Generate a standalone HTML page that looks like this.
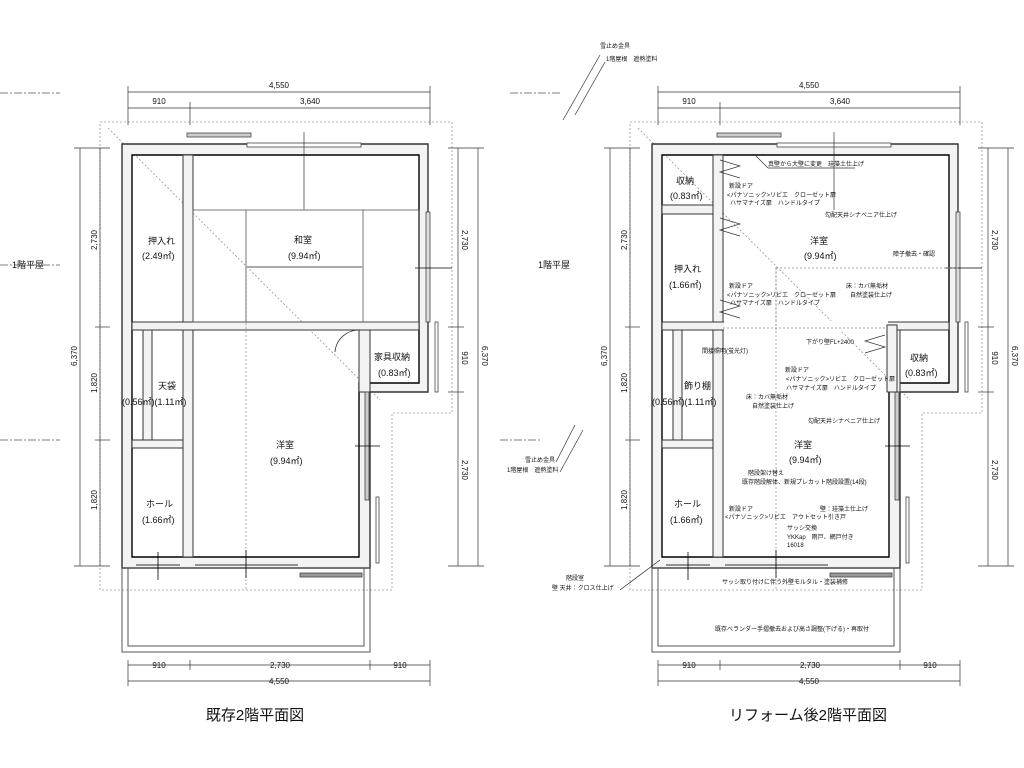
<!DOCTYPE html>
<html><head><meta charset="utf-8"><style>
html,body{margin:0;padding:0;background:#fff;}
svg{display:block;}
text{font-family:"Liberation Sans","Noto Sans CJK JP",sans-serif;fill:#111;}
.t{font-size:9px;}
.s{font-size:6px;}
.d{font-size:8px;}
</style></head><body>
<svg width="1024" height="768" viewBox="0 0 1024 768" xmlns="http://www.w3.org/2000/svg">
<defs>
<g id="plan">
  <path d="M100,122 H452 V413 H392 V590 H100 Z" fill="none" stroke="#999" stroke-width="0.8" stroke-dasharray="2,2"/>
  <line x1="108" y1="128" x2="380" y2="400" stroke="#999" stroke-width="0.8" stroke-dasharray="2,2"/>
  <path d="M122,144 H428 V392 H370 V568 H122 Z M132,155 V557 H359 V383 H419 V155 Z" fill="#f3f3f3" fill-rule="evenodd" stroke="#666" stroke-width="1"/>
  <path d="M132,155 V557 H359 V383 H419 V155 Z" fill="none" stroke="#000" stroke-width="1.4"/>
  <path d="M122,144 H428 V392 H370 V568 H122 Z" fill="none" stroke="#333" stroke-width="1.4"/>
  <rect x="183" y="155" width="10" height="402" fill="#f3f3f3" stroke="#333" stroke-width="1"/>
  <rect x="132" y="322" width="287" height="8" fill="#f3f3f3" stroke="#333" stroke-width="1"/>
  <rect x="132" y="440" width="51" height="8" fill="#f3f3f3" stroke="#333" stroke-width="1"/>
  <rect x="143" y="330" width="9" height="110" fill="#f3f3f3" stroke="#333" stroke-width="1"/>
  <rect x="359" y="330" width="11" height="62" fill="#f3f3f3" stroke="#333" stroke-width="1"/>
  <rect x="122" y="568" width="248" height="84" fill="none" stroke="#555" stroke-width="1"/>
  <rect x="128" y="568" width="236" height="78" fill="none" stroke="#555" stroke-width="1"/>
  <rect x="187" y="133" width="64" height="4" fill="#ccc" stroke="#444" stroke-width="0.8"/>
  <rect x="247" y="143" width="114" height="4" fill="#fff" stroke="#444" stroke-width="0.8"/>
  <rect x="426" y="212" width="4" height="110" fill="#ddd" stroke="#444" stroke-width="0.8"/>
  <rect x="365" y="392" width="4" height="108" fill="#ccc" stroke="#444" stroke-width="0.8"/>
  <rect x="376" y="497" width="3" height="66" fill="#fff" stroke="#444" stroke-width="0.8"/>
  <rect x="300" y="573" width="62" height="4" fill="#999" stroke="#444" stroke-width="0.8"/>
  <rect x="435" y="322" width="3" height="70" fill="#fff" stroke="#444" stroke-width="0.8"/>
  <line x1="136" y1="565" x2="180" y2="565" stroke="#333"/>
  <line x1="195" y1="565" x2="298" y2="565" stroke="#333"/>
  <line x1="246" y1="267" x2="246" y2="590" stroke="#999" stroke-width="0.8" stroke-dasharray="2,2"/>
  <line x1="304" y1="132" x2="304" y2="210" stroke="#333" stroke-width="0.7"/>
  <line x1="415" y1="268" x2="452" y2="268" stroke="#000" stroke-width="0.8"/>
  <line x1="355" y1="446" x2="380" y2="446" stroke="#000" stroke-width="0.8"/>
  <line x1="246" y1="550" x2="246" y2="578" stroke="#000" stroke-width="0.8"/>
  <line x1="158" y1="552" x2="158" y2="580" stroke="#000" stroke-width="0.8"/>
  <g stroke="#333" stroke-width="0.7">
  <line x1="128" y1="92" x2="430" y2="92"/><line x1="128" y1="108" x2="430" y2="108"/>
  <line x1="128" y1="86" x2="128" y2="125"/><line x1="430" y1="86" x2="430" y2="125"/><line x1="190" y1="102" x2="190" y2="125"/>
  <line x1="128" y1="665" x2="430" y2="665"/><line x1="128" y1="681" x2="430" y2="681"/>
  <line x1="128" y1="660" x2="128" y2="686"/><line x1="430" y1="660" x2="430" y2="686"/><line x1="190" y1="660" x2="190" y2="670"/><line x1="370" y1="660" x2="370" y2="670"/>
  <line x1="80" y1="148" x2="80" y2="566"/><line x1="100" y1="148" x2="100" y2="566"/>
  <line x1="74" y1="148" x2="110" y2="148"/><line x1="74" y1="566" x2="110" y2="566"/><line x1="95" y1="327" x2="110" y2="327"/><line x1="95" y1="440" x2="110" y2="440"/>
  <line x1="458" y1="148" x2="458" y2="566"/><line x1="478" y1="148" x2="478" y2="566"/>
  <line x1="448" y1="148" x2="484" y2="148"/><line x1="448" y1="566" x2="484" y2="566"/><line x1="448" y1="327" x2="464" y2="327"/><line x1="448" y1="392" x2="464" y2="392"/>
  </g>
  <text class="d" x="279" y="88" text-anchor="middle">4,550</text>
  <text class="d" x="159" y="104" text-anchor="middle">910</text>
  <text class="d" x="310" y="104" text-anchor="middle">3,640</text>
  <text class="d" x="159" y="668" text-anchor="middle">910</text>
  <text class="d" x="280" y="668" text-anchor="middle">2,730</text>
  <text class="d" x="400" y="668" text-anchor="middle">910</text>
  <text class="d" x="279" y="684" text-anchor="middle">4,550</text>
  <text class="d" transform="translate(77,356) rotate(-90)" text-anchor="middle">6,370</text>
  <text class="d" transform="translate(97,240) rotate(-90)" text-anchor="middle">2,730</text>
  <text class="d" transform="translate(97,383) rotate(-90)" text-anchor="middle">1,820</text>
  <text class="d" transform="translate(97,500) rotate(-90)" text-anchor="middle">1,820</text>
  <text class="d" transform="translate(462,240) rotate(90)" text-anchor="middle">2,730</text>
  <text class="d" transform="translate(462,358) rotate(90)" text-anchor="middle">910</text>
  <text class="d" transform="translate(462,470) rotate(90)" text-anchor="middle">2,730</text>
  <text class="d" transform="translate(482,356) rotate(90)" text-anchor="middle">6,370</text>
</g>
</defs>

<g stroke="#555" stroke-width="0.7" stroke-dasharray="8,2,2,2">
<line x1="0" y1="93" x2="60" y2="93"/><line x1="0" y1="265" x2="60" y2="265"/><line x1="0" y1="440" x2="60" y2="440"/>
<line x1="510" y1="93" x2="560" y2="93"/><line x1="500" y1="440" x2="540" y2="440"/>
</g>
<text class="t" x="12" y="268">1階平屋</text>
<text class="t" x="538" y="268">1階平屋</text>

<use href="#plan"/>
<use href="#plan" transform="translate(530,0)"/>

<g stroke="#555" stroke-width="0.8" fill="none">
<rect x="193" y="210" width="226" height="112"/>
<line x1="246" y1="210" x2="246" y2="322"/><line x1="363" y1="210" x2="363" y2="322"/>
<line x1="246" y1="267" x2="363" y2="267" stroke="#aaa" stroke-width="2"/>
<path d="M335,352 A24,24 0 0 1 360,330" stroke="#333"/>
</g>
<text class="t" x="148" y="244">押入れ</text>
<text class="t" x="142" y="259">(2.49㎡)</text>
<text class="t" x="294" y="243">和室</text>
<text class="t" x="288" y="259">(9.94㎡)</text>
<text class="t" x="374" y="360">家具収納</text>
<text class="t" x="378" y="376">(0.83㎡)</text>
<text class="t" x="158" y="389">天袋</text>
<text class="t" x="122" y="405">(0.56㎡)(1.11㎡)</text>
<text class="t" x="276" y="448">洋室</text>
<text class="t" x="270" y="464">(9.94㎡)</text>
<text class="t" x="146" y="507">ホール</text>
<text class="t" x="142" y="523">(1.66㎡)</text>
<text x="255" y="720" font-size="15" text-anchor="middle">既存2階平面図</text>

<!-- right specific -->
<rect x="724" y="321" width="164" height="10" fill="#fff"/>
<g stroke="#333" stroke-width="1" fill="#f3f3f3">
<rect x="662" y="205" width="51" height="9"/>
<rect x="887" y="325" width="10" height="67"/>
</g>
<g stroke="#888" stroke-width="0.8" fill="none" stroke-dasharray="2,2">
<line x1="776" y1="268" x2="960" y2="268"/>
<line x1="723" y1="328" x2="887" y2="328"/>
<line x1="776" y1="268" x2="776" y2="330"/>
</g>
<g stroke="#333" stroke-width="0.7" fill="none">
<path d="M720,160 L740,166 L720,172 L740,178"/><path d="M720,218 L740,224 L720,230 L740,236"/>
<path d="M720,300 L740,306 L720,312 L740,318"/><path d="M885,335 L865,341 L885,347 L865,353"/>
<line x1="600" y1="55" x2="563" y2="120"/><line x1="605" y1="62" x2="575" y2="115"/>
<line x1="575" y1="425" x2="556" y2="462"/><line x1="583" y1="430" x2="560" y2="472"/>
<line x1="620" y1="590" x2="660" y2="560"/>
<line x1="755" y1="155" x2="768" y2="168"/><line x1="768" y1="168" x2="855" y2="168"/>
</g>
<g font-size="6">
<text x="600" y="48">雪止め金具</text>
<text x="606" y="61">1階屋根　遮熱塗料</text>
<text x="768" y="166">真壁から大壁に変更　珪藻土仕上げ</text>
<text x="729" y="188">新設ドア</text>
<text x="727" y="197">&lt;パナソニック&gt;リビエ　クローゼット扉</text>
<text x="730" y="205">ハサマナイズ扉　ハンドルタイプ</text>
<text x="825" y="217">勾配天井シナベニア仕上げ</text>
<text x="893" y="256">障子撤去・確認</text>
<text x="729" y="288">新設ドア</text>
<text x="727" y="297">&lt;パナソニック&gt;リビエ　クローゼット扉</text>
<text x="730" y="305">ハサマナイズ扉　ハンドルタイプ</text>
<text x="846" y="288">床：カバ無垢材</text>
<text x="850" y="297">自然塗装仕上げ</text>
<text x="806" y="344">下がり壁FL+2400</text>
<text x="702" y="353">間接照明(蛍光灯)</text>
<text x="785" y="372">新設ドア</text>
<text x="786" y="381">&lt;パナソニック&gt;リビエ　クローゼット扉</text>
<text x="786" y="390">ハサマナイズ扉　ハンドルタイプ</text>
<text x="746" y="399">床：カバ無垢材</text>
<text x="752" y="408">自然塗装仕上げ</text>
<text x="808" y="423">勾配天井シナベニア仕上げ</text>
<text x="748" y="475">階段架け替え</text>
<text x="742" y="484">既存階段解体、新規プレカット階段設置(14段)</text>
<text x="729" y="511">新設ドア</text>
<text x="725" y="519">&lt;パナソニック&gt;リビエ　アウトセット引き戸</text>
<text x="820" y="511">壁：珪藻土仕上げ</text>
<text x="787" y="530">サッシ交換</text>
<text x="787" y="539">YKKap　雨戸、網戸付き</text>
<text x="787" y="547">16018</text>
<text x="566" y="580">階段室</text>
<text x="552" y="590">壁 天井：クロス仕上げ</text>
<text x="722" y="584">サッシ取り付けに伴う外壁モルタル・塗装補修</text>
<text x="715" y="631">既存ベランダー手摺撤去および高さ調整(下げる)・再取付</text>
<text x="525" y="462">雪止め金具</text>
<text x="507" y="472">1階屋根　遮熱塗料</text>
</g>
<text class="t" x="676" y="184">収納</text>
<text class="t" x="670" y="199">(0.83㎡)</text>
<text class="t" x="810" y="244">洋室</text>
<text class="t" x="804" y="259">(9.94㎡)</text>
<text class="t" x="674" y="272">押入れ</text>
<text class="t" x="669" y="288">(1.66㎡)</text>
<text class="t" x="910" y="361">収納</text>
<text class="t" x="905" y="376">(0.83㎡)</text>
<text class="t" x="684" y="389">飾り棚</text>
<text class="t" x="652" y="405">(0.56㎡)(1.11㎡)</text>
<text class="t" x="794" y="448">洋室</text>
<text class="t" x="789" y="463">(9.94㎡)</text>
<text class="t" x="674" y="507">ホール</text>
<text class="t" x="670" y="523">(1.66㎡)</text>
<text x="808" y="720" font-size="15" text-anchor="middle">リフォーム後2階平面図</text>
</svg>
</body></html>
